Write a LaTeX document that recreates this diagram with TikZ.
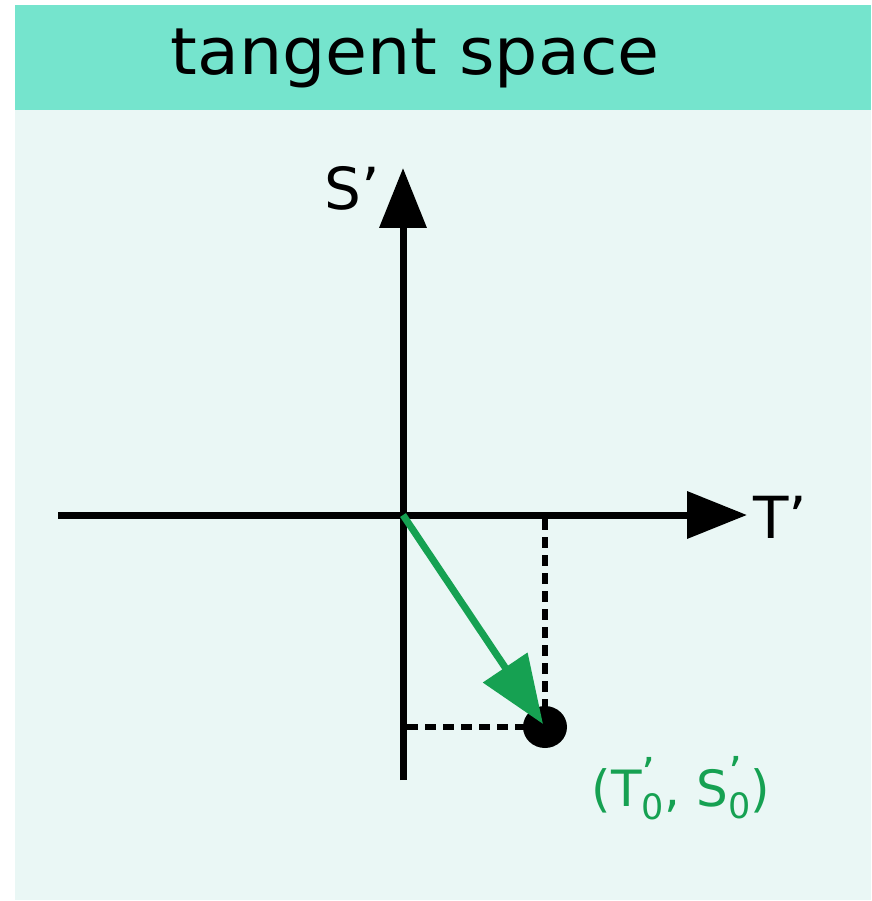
\documentclass[tikz,border=0pt]{standalone}
\usepackage{amsmath}
\usepackage{fontspec}
\setmainfont{DejaVu Sans}
\usetikzlibrary{arrows.meta,positioning}

\definecolor{bandcol}{HTML}{75E4CD}
\definecolor{panelcol}{HTML}{EAF7F5}
\definecolor{veccol}{HTML}{16A152}

\newcommand{\primezero}[1]{$\text{#1}^{\raisebox{-0.18em}{\fontsize{44}{44}\selectfont ’}}_{\text{0}}$}

\begin{document}
\begin{tikzpicture}[x=1pt, y=-1pt,
  axis/.style={line width=7pt, -{Triangle[length=60pt, width=46pt]}},
  guide/.style={line width=6.5pt, dash pattern=on 11pt off 7pt},
  vecarrow/.style={line width=7pt, veccol, -{Triangle[length=68pt, width=52pt]}},
  every node/.style={inner sep=0pt, outer sep=0pt}]
  \useasboundingbox (0,0) rectangle (871,901);
  \fill[white] (0,0) rectangle (871,901);
  \fill[panelcol] (15,110) rectangle (871,900);
  \fill[bandcol] (15,5) rectangle (871,110);
  \node[font=\fontsize{65}{65}\selectfont, anchor=base, xscale=1.05] (title) at (415,75) {tangent space};

  \coordinate (o) at (403,515);
  \coordinate (tleft) at (58,515);
  \coordinate (ttip) at (747,515);
  \coordinate (sbot) at (403,780);
  \coordinate (stip) at (403,168);
  \coordinate (tfoot) at (545,519);
  \coordinate (sfoot) at (407,727);

  \fill (545,727) ellipse (22 and 21);
  \node (pt) at (545,727) {};

  \draw[axis] (tleft) -- (ttip);
  \draw[axis] (sbot) -- (stip);
  \draw[guide] (tfoot) -- (pt.center);
  \draw[guide] (sfoot) -- (pt.center);
  \draw[vecarrow] (o) -- (543,724);

  \node[font=\fontsize{58}{58}\selectfont] (slabel) at (352,188) {S’};
  \node[font=\fontsize{58}{58}\selectfont, anchor=west] (tlabel) at (753,517) {T’};
  \node[font=\fontsize{50}{50}\selectfont, text=veccol] (plabel) at (681,788)
    {(\primezero{T}, \primezero{S})};
\end{tikzpicture}
\end{document}
